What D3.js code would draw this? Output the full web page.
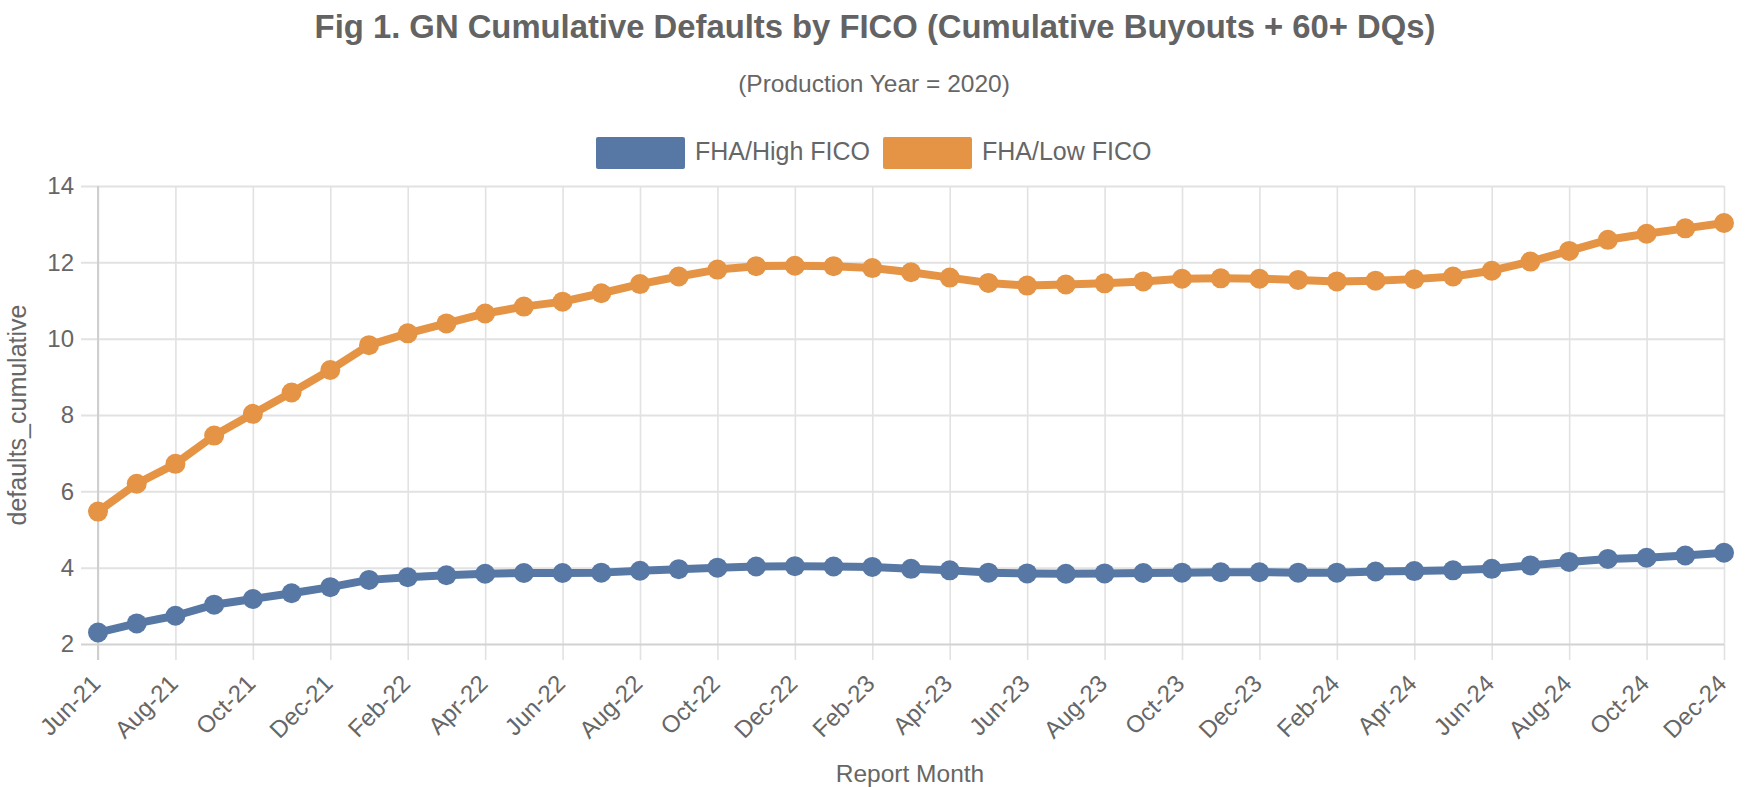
<!DOCTYPE html>
<html>
<head>
<meta charset="utf-8">
<script src="https://cdn.jsdelivr.net/npm/d3@7"></script>
<style>
html,body{margin:0;padding:0;background:#fff;}
svg{display:block;font-family:"Liberation Sans",Arial,Helvetica,sans-serif;}
</style>
</head>
<body>
<svg id="chart" width="1746" height="787"></svg>
<script>
const months = ["Jun-21","Jul-21","Aug-21","Sep-21","Oct-21","Nov-21","Dec-21",
"Jan-22","Feb-22","Mar-22","Apr-22","May-22","Jun-22","Jul-22","Aug-22","Sep-22","Oct-22","Nov-22","Dec-22",
"Jan-23","Feb-23","Mar-23","Apr-23","May-23","Jun-23","Jul-23","Aug-23","Sep-23","Oct-23","Nov-23","Dec-23",
"Jan-24","Feb-24","Mar-24","Apr-24","May-24","Jun-24","Jul-24","Aug-24","Sep-24","Oct-24","Nov-24","Dec-24"];

const highFico = [2.30,2.54,2.74,3.03,3.18,3.33,3.49,
3.68,3.75,3.80,3.84,3.86,3.86,3.87,3.92,3.96,4.00,4.03,4.04,
4.03,4.02,3.97,3.93,3.87,3.85,3.84,3.85,3.86,3.87,3.88,3.88,
3.87,3.87,3.90,3.91,3.93,3.97,4.06,4.15,4.23,4.26,4.32,4.39];

const lowFico = [5.47,6.20,6.72,7.46,8.03,8.59,9.18,
9.83,10.14,10.40,10.66,10.84,10.97,11.19,11.43,11.63,11.81,11.90,11.91,
11.90,11.85,11.74,11.60,11.46,11.39,11.42,11.45,11.50,11.57,11.58,11.57,
11.54,11.50,11.52,11.56,11.63,11.78,12.02,12.30,12.59,12.75,12.89,13.03];

const seriesNames = ["FHA/High FICO","FHA/Low FICO"];
const seriesColors = ["#5778a4","#e49444"];
const yTicks = [2,4,6,8,10,12,14];
const xTickLabels = months.filter((m,i)=>i%2===0);

const svg = d3.select("#chart");
const pL = 98, pR = 1724, pT = 186, pB = 644;
const x = d3.scalePoint().domain(months).range([pL,pR]).padding(0);
const y = d3.scaleLinear().domain([2,14]).range([pB,pT]);

const textColor = "#666666";

// Title
svg.append("text").attr("x",875).attr("y",38).attr("text-anchor","middle")
  .attr("font-size",32.8).attr("font-weight","bold").attr("fill","#636363")
  .text("Fig 1. GN Cumulative Defaults by FICO (Cumulative Buyouts + 60+ DQs)");
svg.append("text").attr("x",874).attr("y",92).attr("text-anchor","middle")
  .attr("font-size",24.5).attr("fill",textColor)
  .text("(Production Year = 2020)");

// Gridlines via axes
const gx = svg.append("g").attr("transform",`translate(0,${pB})`)
  .call(d3.axisBottom(x).tickValues(xTickLabels).tickSize(16).tickFormat(""));
gx.select(".domain").remove();
gx.selectAll(".tick line").attr("stroke","#e2e2e2").attr("stroke-width",1.6).attr("y1",-(pB-pT)).attr("y2",16);

const gy = svg.append("g").attr("transform",`translate(${pL},0)`)
  .call(d3.axisLeft(y).tickValues(yTicks).tickSize(17).tickFormat(""));
gy.select(".domain").remove();
gy.selectAll(".tick line").attr("stroke",d=>d===2?"#d2d2d2":"#e2e2e2").attr("stroke-width",2)
  .attr("x1",-17).attr("x2",pR-pL);

// left axis line
svg.append("line").attr("x1",pL).attr("x2",pL).attr("y1",pT).attr("y2",pB+16)
  .attr("stroke","#cfcfcf").attr("stroke-width",2);

// Y tick labels
svg.append("g").selectAll("text").data(yTicks).join("text")
  .attr("x",74).attr("y",d=>y(d)).attr("dy","0.35em").attr("text-anchor","end")
  .attr("font-size",24).attr("fill",textColor).text(d=>d);

// X tick labels
svg.append("g").selectAll("text").data(xTickLabels).join("text")
  .attr("transform",d=>`translate(${x(d)+4},685) rotate(-45)`)
  .attr("text-anchor","end").attr("font-size",24).attr("fill",textColor).text(d=>d);

// Axis titles
svg.append("text").attr("transform",`translate(26,${(pT+pB)/2}) rotate(-90)`)
  .attr("text-anchor","middle").attr("font-size",25).attr("fill",textColor).text("defaults_cumulative");
svg.append("text").attr("x",910).attr("y",782).attr("text-anchor","middle")
  .attr("font-size",24.5).attr("fill",textColor).text("Report Month");

// Legend
const legendItems = [{name:seriesNames[0],color:seriesColors[0],x:596},{name:seriesNames[1],color:seriesColors[1],x:883}];
const lg = svg.append("g");
legendItems.forEach(it=>{
  lg.append("rect").attr("x",it.x).attr("y",137).attr("width",89).attr("height",32)
    .attr("rx",2).attr("fill",it.color);
  lg.append("text").attr("x",it.x+99).attr("y",160).attr("font-size",25).attr("fill",textColor).text(it.name);
});

// Lines and points
const data = [highFico, lowFico];
const line = d3.line().x((d,i)=>x(months[i])).y(d=>y(d));
data.forEach((vals,k)=>{
  const g = svg.append("g");
  g.append("path").datum(vals).attr("d",line).attr("fill","none")
    .attr("stroke",seriesColors[k]).attr("stroke-width",8).attr("stroke-linejoin","round");
  g.selectAll("circle").data(vals).join("circle")
    .attr("cx",(d,i)=>x(months[i])).attr("cy",d=>y(d)).attr("r",10).attr("fill",seriesColors[k]);
});
</script>
</body>
</html>
